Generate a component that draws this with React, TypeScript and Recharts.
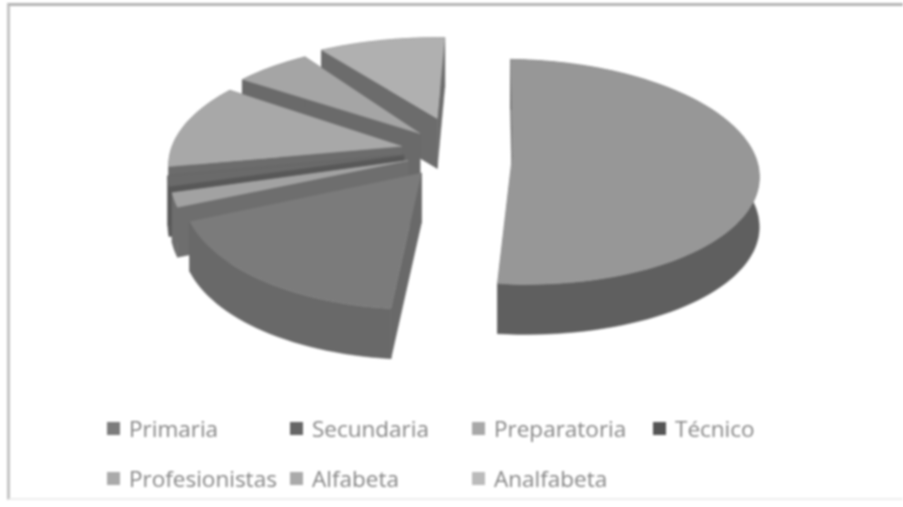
import React from "react";
import { PieChart, Pie, Legend } from "recharts";

const categories = ["Primaria", "Secundaria", "Preparatoria", "Técnico", "Profesionistas", "Alfabeta", "Analfabeta"];
const values = [51, 17, 2, 1.5, 12.5, 6, 10];
const topColors = ["#979797", "#7b7b7b", "#a2a2a2", "#6a6a6a", "#a8a8a8", "#a5a5a5", "#b0b0b0"];
const wallColors = ["#5f5f5f", "#696969", "#6e6e6e", "#585858", "#6c6c6c", "#6a6a6a", "#6c6c6c"];
const swatchColors = ["#7c7c7c", "#666666", "#a8a8a8", "#555555", "#aaaaaa", "#aaaaaa", "#bbbbbb"];
const explodeX = [0.3, -0.075, -0.13, -0.15, -0.16, -0.085, -0.012];
const explodeZ = [0, -0.16, -0.05, 0, 0.08, 0.2, 0.35];
const widthScale = [1, 0.95, 0.96, 0.96, 0.96, 1, 1];
const depthScale = [1, 1, 1, 1, 1, 1, 0.92];

// Painter's order: back slices first; angles run anticlockwise from the top.
const pieData = categories
  .map((name, i) => ({
    name,
    value: values[i],
    fill: topColors[i],
    wall: wallColors[i],
    ex: explodeX[i],
    ez: explodeZ[i],
    wx: widthScale[i],
    wz: depthScale[i],
  }))
  .reverse();

const TILT = 110 / 242;
const PERSPECTIVE = 0.15;
const DEPTH = 50;

function Slice3D(props: any) {
  const { cx, cy, outerRadius, startAngle, endAngle, fill, payload } = props;
  const { ex, ez, wx, wz, wall } = payload;
  const project = (X: number, Z: number, h: number) => {
    const s = 1 / (1 + PERSPECTIVE * Z);
    return [cx + X * outerRadius * s, cy - Z * outerRadius * TILT * s + h * DEPTH];
  };
  const steps = Math.max(4, Math.ceil(Math.abs(endAngle - startAngle) / 2));
  const rim: [number, number][] = [];
  for (let k = 0; k <= steps; k++) {
    const a = ((startAngle + ((endAngle - startAngle) * k) / steps) * Math.PI) / 180;
    rim.push([Math.cos(a) * wx + ex, Math.sin(a) * wz + ez]);
  }
  const toPath = (pts: number[][]) => "M" + pts.map((p) => `${p[0].toFixed(1)},${p[1].toFixed(1)}`).join("L") + "Z";
  const apexTop = project(ex, ez, 0);
  const apexBottom = project(ex, ez, 1);
  const rimTop = rim.map((p) => project(p[0], p[1], 0));
  const rimBottom = rim.map((p) => project(p[0], p[1], 1));
  const last = rimTop.length - 1;
  return (
    <g>
      <path d={toPath([apexTop, rimTop[0], rimBottom[0], apexBottom])} fill={wall} stroke={wall} strokeWidth={0.5} />
      <path d={toPath([apexTop, rimTop[last], rimBottom[last], apexBottom])} fill={wall} stroke={wall} strokeWidth={0.5} />
      <path d={toPath([...rimTop, ...[...rimBottom].reverse()])} fill={wall} stroke={wall} strokeWidth={0.5} />
      <path d={toPath([apexTop, ...rimTop])} fill={fill} stroke={fill} strokeWidth={0.5} />
    </g>
  );
}

function ChartLegend() {
  return (
    <div
      style={{
        display: "grid",
        gridTemplateColumns: "183px 182px 181px 181px",
        gridAutoRows: "50px",
        fontFamily: "'Open Sans', sans-serif",
        fontSize: 22.5,
        color: "#858585",
      }}
    >
      {categories.map((name, i) => (
        <div key={name} style={{ display: "flex", alignItems: "center", whiteSpace: "nowrap" }}>
          <span style={{ width: 13, height: 13, background: swatchColors[i], marginRight: 9, flex: "none" }} />
          {name}
        </div>
      ))}
    </div>
  );
}

export default function App() {
  return (
    <div style={{ position: "absolute", left: 0, top: 0, width: 903, height: 507, overflow: "hidden", background: "#fff" }}>
      <div style={{ position: "absolute", left: 0, top: 0, width: 903, height: 507, filter: "blur(1px)" }}>
        <div style={{ position: "absolute", left: 7, top: 3, width: 896, height: 497, borderLeft: "3px solid #c4c4c4", borderTop: "3px solid #b4b4b4", borderBottom: "2px solid #eeeeee", boxSizing: "border-box" }} />
        <div style={{ position: "absolute", left: 0, top: 0 }}>
          <PieChart width={903} height={507} margin={{ top: 0, right: 0, bottom: 0, left: 0 }}>
            <Pie
              data={pieData}
              dataKey="value"
              nameKey="name"
              cx={440}
              cy={155}
              innerRadius={0}
              outerRadius={242}
              startAngle={88}
              endAngle={448}
              stroke="none"
              isAnimationActive={false}
              shape={Slice3D}
            />
            <Legend
              content={<ChartLegend />}
              layout="horizontal"
              verticalAlign="bottom"
              align="left"
              wrapperStyle={{ left: 107, top: 403, bottom: "auto", width: 740 }}
            />
          </PieChart>
        </div>
      </div>
    </div>
  );
}
